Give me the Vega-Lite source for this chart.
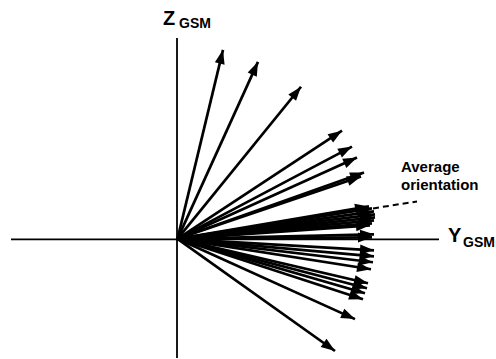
{
  "$schema": "https://vega.github.io/schema/vega-lite/v6.json",
  "width": 496,
  "height": 359,
  "autosize": {"type": "fit", "contains": "padding"},
  "padding": 0,
  "background": "white",
  "config": {"view": {"stroke": null}},
  "datasets": {
    "vectors": [
      {"by": 45.5, "bz": 189.5},
      {"by": 80.5, "bz": 177.5},
      {"by": 123.5, "bz": 152.5},
      {"by": 164.5, "bz": 108.5},
      {"by": 174.5, "bz": 92.5},
      {"by": 179.5, "bz": 81.5},
      {"by": 186.5, "bz": 66.5},
      {"by": 183.5, "bz": 62.5},
      {"by": 191.5, "bz": 32.5},
      {"by": 194.5, "bz": 30.5},
      {"by": 196.5, "bz": 27.5},
      {"by": 197.5, "bz": 24.5},
      {"by": 197.5, "bz": 21.5},
      {"by": 196.5, "bz": 18.5},
      {"by": 194.5, "bz": 15.5},
      {"by": 192.5, "bz": 13.5},
      {"by": 196.5, "bz": 4.5},
      {"by": 194.5, "bz": 1.5},
      {"by": 196.5, "bz": -11.5},
      {"by": 196.5, "bz": -17.5},
      {"by": 195.5, "bz": -23.5},
      {"by": 193.5, "bz": -30.5},
      {"by": 190.5, "bz": -44.5},
      {"by": 189.5, "bz": -49.5},
      {"by": 187.5, "bz": -54.5},
      {"by": 185.5, "bz": -60.5},
      {"by": 177.5, "bz": -80.5},
      {"by": 157.5, "bz": -112.5}
    ],
    "axes": [
      {"y1": -166.5, "z1": -0.5, "y2": 261.5, "z2": -0.5},
      {"y1": -0.5, "z1": 201.5, "y2": -0.5, "z2": -119.5}
    ],
    "pointer": [
      {"y1": 195.5, "z1": 30.5, "y2": 239.5, "z2": 37.5}
    ],
    "axisLetters": [
      {"label": "Z", "ty": -14.5, "tz": 214.5},
      {"label": "Y", "ty": 270.5, "tz": -3.5}
    ],
    "subscripts": [
      {"label": "GSM", "ty": 1.5, "tz": 211.5},
      {"label": "GSM", "ty": 285.5, "tz": -8.5}
    ],
    "note": [
      {"label": "Average", "ty": 223.5, "tz": 67.5},
      {"label": "orientation", "ty": 223.5, "tz": 48.5}
    ]
  },
  "layer": [
    {
      "data": {"name": "axes"},
      "mark": {"type": "rule", "color": "black", "strokeWidth": 1.8},
      "encoding": {
        "x": {"field": "y1", "type": "quantitative", "scale": {"domain": [-177.5, 318.5], "nice": false, "zero": false}, "axis": null},
        "y": {"field": "z1", "type": "quantitative", "scale": {"domain": [-119.5, 239.5], "nice": false, "zero": false}, "axis": null},
        "x2": {"field": "y2"},
        "y2": {"field": "z2"}
      }
    },
    {
      "data": {"name": "vectors"},
      "mark": {"type": "rule", "color": "black", "strokeWidth": 2.7},
      "encoding": {
        "x": {"field": "by", "type": "quantitative"},
        "y": {"field": "bz", "type": "quantitative"},
        "x2": {"datum": 0},
        "y2": {"datum": 0}
      }
    },
    {
      "data": {"name": "vectors"},
      "transform": [
        {"calculate": "90 - atan2(datum.bz, datum.by) * 180 / PI", "as": "heading"}
      ],
      "mark": {
        "type": "point",
        "shape": "M0,0L-1,2.8L1,2.8Z",
        "size": 100,
        "filled": true,
        "color": "black",
        "opacity": 1,
        "strokeWidth": 0
      },
      "encoding": {
        "x": {"field": "by", "type": "quantitative"},
        "y": {"field": "bz", "type": "quantitative"},
        "angle": {"field": "heading", "type": "quantitative", "scale": null}
      }
    },
    {
      "data": {"name": "pointer"},
      "mark": {"type": "rule", "color": "black", "strokeWidth": 2, "strokeDash": [6, 4]},
      "encoding": {
        "x": {"field": "y1", "type": "quantitative"},
        "y": {"field": "z1", "type": "quantitative"},
        "x2": {"field": "y2"},
        "y2": {"field": "z2"}
      }
    },
    {
      "data": {"name": "axisLetters"},
      "mark": {"type": "text", "align": "left", "baseline": "alphabetic", "font": "Liberation Sans", "fontSize": 20, "fontWeight": "bold", "color": "black"},
      "encoding": {
        "x": {"field": "ty", "type": "quantitative"},
        "y": {"field": "tz", "type": "quantitative"},
        "text": {"field": "label"}
      }
    },
    {
      "data": {"name": "subscripts"},
      "mark": {"type": "text", "align": "left", "baseline": "alphabetic", "font": "Liberation Sans", "fontSize": 14, "fontWeight": "bold", "color": "black"},
      "encoding": {
        "x": {"field": "ty", "type": "quantitative"},
        "y": {"field": "tz", "type": "quantitative"},
        "text": {"field": "label"}
      }
    },
    {
      "data": {"name": "note"},
      "mark": {"type": "text", "align": "left", "baseline": "alphabetic", "font": "Liberation Sans", "fontSize": 15, "fontWeight": "bold", "color": "black"},
      "encoding": {
        "x": {"field": "ty", "type": "quantitative"},
        "y": {"field": "tz", "type": "quantitative"},
        "text": {"field": "label"}
      }
    }
  ]
}
